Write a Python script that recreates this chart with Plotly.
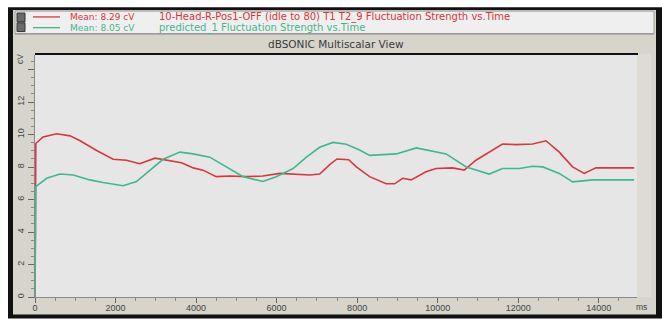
import plotly.graph_objects as go

# Fluctuation strength traces (time in ms, value in cV)
red_time_ms = [0, 20, 200, 540, 870, 1120, 1530, 1940, 2270, 2600, 2980, 3350, 3640,
               3930, 4170, 4500, 4840, 5250, 5660, 6080, 6490, 6820, 7070, 7320, 7500,
               7790, 7980, 8310, 8720, 8930, 9130, 9340, 9710, 9960, 10370, 10660,
               10950, 11280, 11610, 11950, 12360, 12690, 13020, 13350, 13640, 13930, 14880]
red_values = [0, 9.45, 9.86, 10.05, 9.92, 9.62, 9.02, 8.48, 8.42, 8.21, 8.55, 8.37, 8.27,
              7.95, 7.81, 7.41, 7.45, 7.41, 7.45, 7.61, 7.57, 7.51, 7.57, 8.15, 8.50,
              8.45, 8.01, 7.41, 6.97, 6.97, 7.31, 7.21, 7.71, 7.91, 7.95, 7.81,
              8.42, 8.92, 9.42, 9.38, 9.42, 9.62, 8.92, 8.01, 7.61, 7.95, 7.95]

green_time_ms = [0, 20, 290, 620, 950, 1360, 1690, 2190, 2520, 2850, 3180, 3600, 3930,
                 4340, 4750, 5170, 5660, 5990, 6410, 6740, 7070, 7400, 7730, 8060, 8310,
                 8970, 9470, 9800, 10210, 10710, 11280, 11610, 12030, 12360, 12610,
                 13020, 13350, 13850, 14880]
green_values = [0, 6.80, 7.31, 7.57, 7.51, 7.21, 7.05, 6.85, 7.11, 7.81, 8.48, 8.92, 8.81,
                8.61, 8.01, 7.41, 7.11, 7.41, 7.91, 8.61, 9.22, 9.52, 9.40, 9.05, 8.72,
                8.81, 9.18, 9.02, 8.81, 8.01, 7.57, 7.91, 7.91, 8.05, 8.01,
                7.61, 7.09, 7.21, 7.21]

red_mean = "Mean: 8.29 cV"
green_mean = "Mean: 8.05 cV"
red_name = "10-Head-R-Pos1-OFF (idle to 80) T1 T2_9 Fluctuation Strength vs.Time"
green_name = "predicted_1 Fluctuation Strength vs.Time"
view_title = "dBSONIC Multiscalar View"
y_tick_vals = [0, 2, 4, 6, 8, 10, 12, 14]
y_tick_text = ["0", "2", "4", "6", "8", "10", "12", ""]
x_tick_vals = [0, 2000, 4000, 6000, 8000, 10000, 12000, 14000]
x_tick_text = ["0", "2000", "4000", "6000", "8000", "10000", "12000", "14000"]

RED = "#de3440"
GREEN = "#3fb88c"
FRAME = "#d6d4cb"
PLOT_BG = "#e6e6e7"
FONT = "Arial, Liberation Sans, sans-serif"
WIDE_FONT = "DejaVu Sans, Verdana, sans-serif"

W, H = 662, 325
L, R, T, B = 35, 637, 55, 303  # plot area in page pixels


def px(x):
    return (x - L) / (R - L)


def py(y):
    return (B - y) / (B - T)


fig = go.Figure()
fig.add_trace(go.Scatter(x=red_time_ms, y=red_values, mode="lines",
                         line=dict(color=RED, width=1.6), showlegend=False))
fig.add_trace(go.Scatter(x=green_time_ms, y=green_values, mode="lines",
                         line=dict(color=GREEN, width=1.6), showlegend=False))

shapes = []


def rect(x0, y0, x1, y1, fill, line=None, width=0, layer="below"):
    shapes.append(dict(type="rect", xref="paper", yref="paper",
                       x0=px(x0), x1=px(x1), y0=py(y1), y1=py(y0),
                       fillcolor=fill, layer=layer,
                       line=dict(color=line or fill, width=width)))


def hline(x0, x1, y, color, width, layer="below"):
    shapes.append(dict(type="line", xref="paper", yref="paper",
                       x0=px(x0), x1=px(x1), y0=py(y), y1=py(y),
                       line=dict(color=color, width=width), layer=layer))


# window frame
rect(8, 6, 662, 325, "#111111")
rect(13, 9, 656, 321, FRAME)
# legend strip
rect(15, 10, 654, 33, "#efefef", "#9a9a9a", 1)
# legend icon
rect(17, 12, 25, 21, "#6a6a6a", "#333333", 1)
rect(17, 22, 25, 31, "#6a6a6a", "#333333", 1)
# title separator
hline(15, 654, 34, "#b0aea6", 1)
# lighter strip right of the plot
rect(637, 54, 651, 303, "#dddbd2")
# plot area background
rect(L, T, R, B, PLOT_BG)
# plot top border
hline(35, 638, 54, "#111111", 2.2, layer="above")

hline(33, 60, 16, RED, 1.3)
hline(33, 60, 27, GREEN, 1.3)

annotations = []


def text(x, y, s, color="#333333", size=10, anchor="left", angle=0, family=FONT):
    annotations.append(dict(xref="paper", yref="paper", x=px(x), y=py(y), text=s,
                            showarrow=False, xanchor=anchor, yanchor="middle",
                            textangle=angle,
                            font=dict(family=family, size=size, color=color)))


text(68, 16, red_mean, RED, 9, family=WIDE_FONT)
text(157, 16, red_name, RED, 10, family=WIDE_FONT)
text(68, 27, green_mean, GREEN, 9, family=WIDE_FONT)
text(157, 27, green_name, GREEN, 10, family=WIDE_FONT)
text(336, 44, view_title, "#3a3a3a", 10.5, "center", family=WIDE_FONT)
text(20, 59, "cV", "#444444", 8.5, "center", -90)
text(641, 313, "ms", "#444444", 8.5, "center")

fig.update_layout(
    width=W, height=H,
    margin=dict(l=L, r=W - R, t=T, b=H - B, pad=0),
    paper_bgcolor="white",
    plot_bgcolor=PLOT_BG,
    shapes=shapes,
    annotations=annotations,
    font=dict(family=FONT, size=9, color="#444444"),
    xaxis=dict(range=[0, 14950], tickvals=x_tick_vals, ticktext=x_tick_text,
               showgrid=False, zeroline=False,
               showline=True, linecolor="#8a8a8a", linewidth=1,
               ticks="outside", ticklen=5, tickcolor="#666666", tickwidth=1,
               ticklabelstandoff=-3,
               minor=dict(dtick=500, tick0=0, ticks="outside", ticklen=3,
                          tickcolor="#888888", showgrid=False),
               tickfont=dict(size=9, color="#444444")),
    yaxis=dict(range=[0, 14.9], tickvals=y_tick_vals, ticktext=y_tick_text,
               showgrid=False, zeroline=False, tickangle=-90,
               showline=True, linecolor="#8a8a8a", linewidth=1,
               ticks="outside", ticklen=6, tickcolor="#666666", tickwidth=1,
               minor=dict(dtick=0.5, tick0=0, ticks="outside", ticklen=3,
                          tickcolor="#888888", showgrid=False),
               tickfont=dict(size=9, color="#444444")),
)

fig.write_html("out.html")
